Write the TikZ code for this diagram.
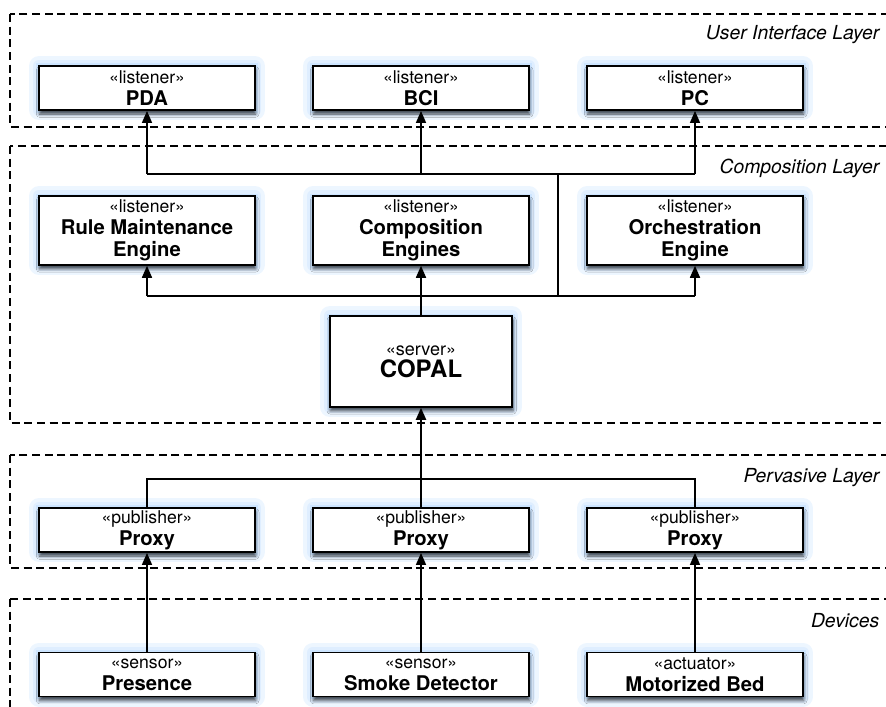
\documentclass[tikz,border=0pt]{standalone}
\usepackage{fontspec}
\setmainfont{TeX Gyre Heros}
\usepackage{tikz}
\usetikzlibrary{arrows.meta}
\usetikzlibrary{shadows.blur}

\definecolor{glow}{RGB}{196,224,255}
\newcommand{\compname}[1]{{\fontsize{15.2}{16.5}\selectfont\bfseries #1}}

\tikzset{
  layer/.style={draw, dash pattern=on 6pt off 3.5pt, line width=0.8pt},
  layername/.style={anchor=base east, font=\fontsize{14.5}{16}\selectfont\itshape},
  comp/.style={draw, fill=white, line width=1.4pt, align=center,
    minimum width=162pt, minimum height=33pt, inner sep=1pt,
    font=\fontsize{13.2}{16.5}\selectfont,
    preaction={draw=glow!30, line width=15pt, line join=round},
    preaction={draw=glow!55, line width=9pt, line join=round},
    preaction={draw=glow!85, line width=4pt},
    blur shadow={shadow xshift=0.5pt, shadow yshift=-3pt,
      shadow blur radius=2.5pt, shadow opacity=70}},
  link/.style={line width=1.2pt},
  uses/.style={link, -{Triangle[length=9pt,width=7.5pt]}},
}

\begin{document}
\begin{tikzpicture}[x=0.75pt, y=-0.75pt]
  \useasboundingbox (0,0) rectangle (886,707);
  \clip (0,0) rectangle (886,707);

  % user interface layer
  \node[comp] (pda) at (147,88) {«listener»\\\compname{PDA}};
  \node[comp] (bci) at (421,88) {«listener»\\\compname{BCI}};
  \node[comp] (pc)  at (695,88) {«listener»\\\compname{PC}};

  % composition layer
  \node[comp, minimum height=51.5pt] (rule) at (147,230.5)
    {«listener»\\\compname{Rule Maintenance}\\\compname{Engine}};
  \node[comp, minimum height=51.5pt] (engines) at (421,230.5)
    {«listener»\\\compname{Composition}\\\compname{Engines}};
  \node[comp, minimum height=51.5pt] (orch) at (695,230.5)
    {«listener»\\\compname{Orchestration}\\\compname{Engine}};
  \node[comp, minimum width=137pt, minimum height=68pt] (copal) at (421,361.5)
    {{\fontsize{13.5}{22}\selectfont «server»}\\{\fontsize{18}{22}\selectfont\bfseries COPAL}};

  % pervasive layer
  \node[comp] (proxyA) at (147,530) {«publisher»\\\compname{Proxy}};
  \node[comp] (proxyB) at (421,530) {«publisher»\\\compname{Proxy}};
  \node[comp] (proxyC) at (695,530) {«publisher»\\\compname{Proxy}};

  % devices
  \node[comp] (presence) at (147,674.5) {«sensor»\\\compname{Presence}};
  \node[comp] (smoke)    at (421,674.5) {«sensor»\\\compname{Smoke Detector}};
  \node[comp] (bed)      at (695,674.5) {«actuator»\\\compname{Motorized Bed}};

  % layers
  \draw[layer] (10,14) rectangle (900,127);
  \draw[layer] (10,146) rectangle (900,423);
  \draw[layer] (10,455) rectangle (900,568);
  \draw[layer] (10,599) rectangle (900,720);
  \node[layername] at (884,39) {User Interface Layer};
  \node[layername] at (884,173) {Composition Layer};
  \node[layername] at (884,482) {Pervasive Layer};
  \node[layername] at (884,627) {Devices};

  % buses
  \coordinate (uibus) at (558,174);
  \coordinate (compbus) at (558,296);
  \coordinate (pervbus) at (421,479);

  \draw[link] (pda |- uibus) -- (pc |- uibus);
  \draw[uses] (pda |- uibus) -- (pda.south);
  \draw[uses] (bci |- uibus) -- (bci.south);
  \draw[uses] (pc |- uibus) -- (pc.south);
  \draw[link] (uibus) -- (compbus);

  \draw[link] (rule |- compbus) -- (orch |- compbus);
  \draw[uses] (rule |- compbus) -- (rule.south);
  \draw[uses] (engines |- compbus) -- (engines.south);
  \draw[uses] (orch |- compbus) -- (orch.south);
  \draw[link] (copal.north) -- (copal |- compbus);

  \draw[link] (proxyA.north) -- (proxyA |- pervbus) -- (proxyC |- pervbus) -- (proxyC.north);
  \draw[uses, line width=1.5pt] (proxyB.north) -- (copal.south);

  \draw[uses] (presence) -- (proxyA);
  \draw[uses] (smoke) -- (proxyB);
  \draw[uses] (bed) -- (proxyC);
\end{tikzpicture}
\end{document}
